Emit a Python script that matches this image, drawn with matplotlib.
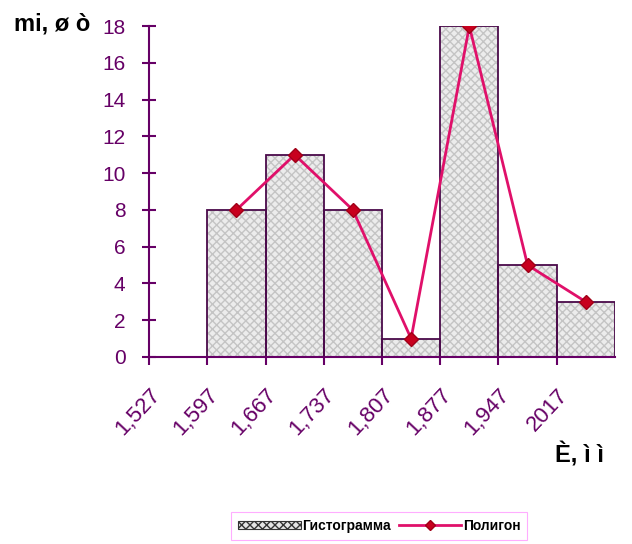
import matplotlib.pyplot as plt
import numpy as np
from matplotlib.patches import Patch
from matplotlib.lines import Line2D

# interval edges and frequencies
edges = [1.597, 1.667, 1.737, 1.807, 1.877, 1.947, 2.017, 2.087]
freq = [8, 11, 8, 1, 18, 5, 3]
tick_pos = [1.527, 1.597, 1.667, 1.737, 1.807, 1.877, 1.947, 2.017]
tick_labels = ['1,527', '1,597', '1,667', '1,737', '1,807', '1,877', '1,947', '2017']
y_ticks = [0, 2, 4, 6, 8, 10, 12, 14, 16, 18]

purple = '#660066'
plt.rcParams['font.family'] = ['Liberation Sans', 'DejaVu Sans']

fig = plt.figure(figsize=(6.32, 5.44), dpi=100)
ax = fig.add_axes([0.2358, 0.3438, 0.7372, 0.6082])

left = np.array(edges[:-1])
widths = np.diff(edges)
mids = left + widths / 2

# hatched fill, then outlines on top
ax.bar(left, freq, width=widths, align='edge', color='#ececec',
       hatch='xxxx', edgecolor='#c4c4c4', linewidth=0, zorder=1)
ax.bar(left, freq, width=widths, align='edge', fill=False,
       edgecolor='#4a0a4a', linewidth=1.3, zorder=2)

# polygon
ax.plot(mids, freq, color='#e0106a', linewidth=2, marker='D', markersize=7,
        markerfacecolor='#c8001e', markeredgecolor='#a00018', zorder=3)

ax.set_xlim(1.527, 2.087)
ax.set_ylim(0, 18)
ax.set_xticks(tick_pos)
ax.set_xticklabels(tick_labels, rotation=47, ha='right', va='top',
                   rotation_mode='anchor', color=purple, fontsize=16)
ax.set_yticks(y_ticks)
ax.set_yticklabels([str(v) for v in y_ticks], color=purple, fontsize=15)

for side in ['top', 'right']:
    ax.spines[side].set_visible(False)
for side in ['left', 'bottom']:
    ax.spines[side].set_color(purple)
    ax.spines[side].set_linewidth(1.5)
ax.tick_params(axis='y', direction='inout', length=10, width=1.5, color=purple, pad=12)
ax.tick_params(axis='x', direction='out', length=6, width=1.5, color=purple, pad=14)

fig.text(0.022, 0.955, 'mi, ø ò', fontsize=17, fontweight='bold', color='black', va='center')
fig.text(0.878, 0.163, 'È, ì ì', fontsize=17, fontweight='bold', color='black', va='center')

# legend
handles = [Patch(facecolor='#e4e4e4', edgecolor='#333333', hatch='xxxx', linewidth=0.8),
           Line2D([0], [0], color='#e0106a', linewidth=2, marker='D', markersize=5,
                  markerfacecolor='#c8001e', markeredgecolor='#a00018')]
leg = fig.legend(handles, ['Гистограмма', 'Полигон'], loc='lower center',
                 bbox_to_anchor=(0.6, -0.005), ncol=2, frameon=True,
                 prop={'size': 10, 'weight': 'bold'},
                 fancybox=False, edgecolor='#ff99ff', handlelength=4.5, handleheight=0.5,
                 columnspacing=0.6, handletextpad=0.1, borderpad=0.5)
leg.get_frame().set_linewidth(0.8)

plt.savefig('out.png', dpi=100)
